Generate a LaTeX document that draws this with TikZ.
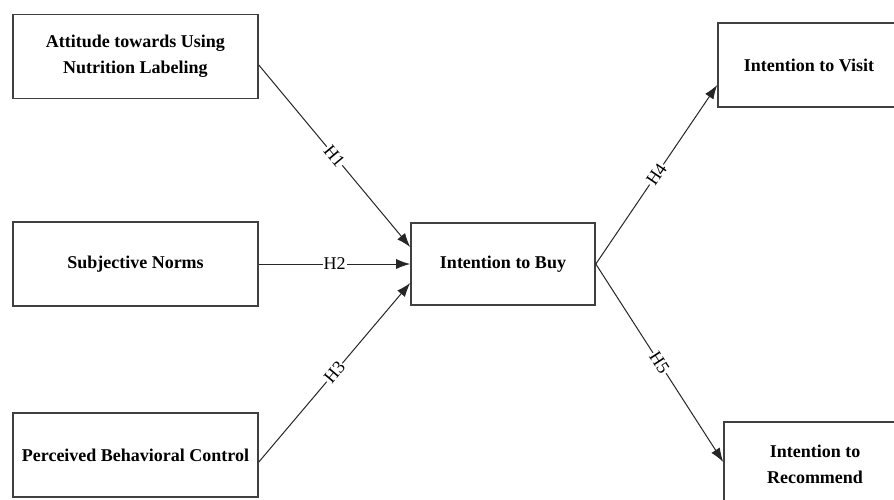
\documentclass[tikz,border=0pt]{standalone}
\usepackage{fontspec}
\setmainfont{Liberation Serif}
\usetikzlibrary{arrows.meta}
\begin{document}
\begin{tikzpicture}[x=1pt,y=-1pt,
  box/.style={draw=black!75, line width=1.6pt, fill=white, minimum width=245pt, minimum height=84pt, inner sep=2pt, align=center, font=\fontsize{18}{26}\selectfont\bfseries},
  conn/.style={draw=black!85, line width=1pt, -{Latex[length=14pt,width=10pt]}},
  hyp/.style={fill=white, inner sep=1pt, sloped, midway, font=\fontsize{18}{18}\selectfont}]
\clip (0,0) rectangle (894,499);
\fill[white] (0,0) rectangle (894,499);
\node[box] (A) at (135.5,56.5) {Attitude towards Using\\Nutrition Labeling};
\node[box] (B) at (135.5,264) {Subjective Norms};
\node[box] (C) at (135.5,455) {Perceived Behavioral Control};
\node[box, minimum width=184pt, minimum height=82pt] (D) at (503,264) {Intention to Buy};
\node[box, minimum width=182pt, minimum height=84pt] (E) at (809,65) {Intention to Visit};
\node[box, minimum width=182pt, minimum height=84pt] (F) at (815,464) {Intention to\\Recommend};
\draw[conn] ([yshift=-8.5pt]A.east) -- node[hyp] {H1} ([yshift=17pt]D.west);
\draw[conn] (B.east) -- node[hyp] {H2} (D.west);
\draw[conn] ([yshift=-7pt]C.east) -- node[hyp] {H3} ([yshift=-19pt]D.west);
\draw[conn] (D.east) -- node[hyp] {H4} ([yshift=-20pt]E.west);
\draw[conn] (D.east) -- node[hyp] {H5} ([yshift=2pt]F.west);
\end{tikzpicture}
\end{document}
